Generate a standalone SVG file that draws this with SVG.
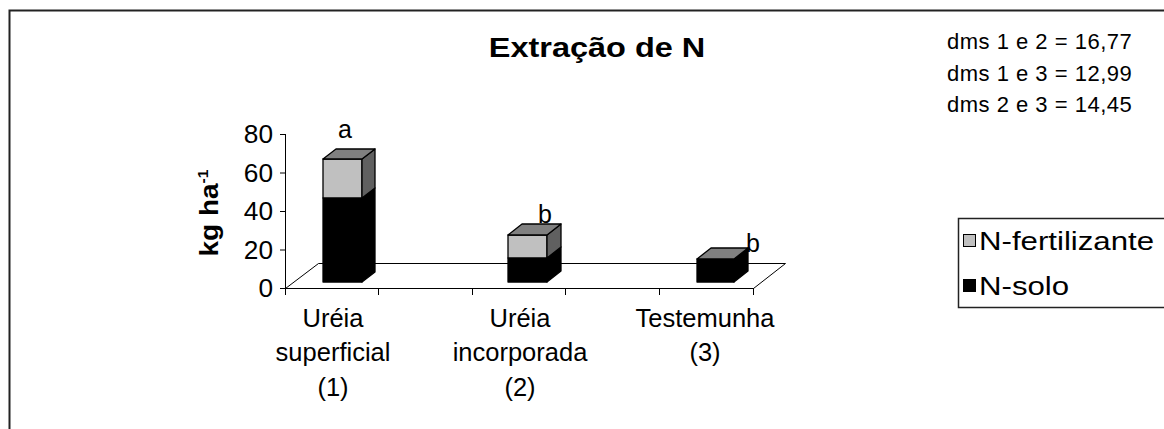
<svg xmlns="http://www.w3.org/2000/svg" width="1164" height="429" viewBox="0 0 1164 429">
<style>
text{font-family:"Liberation Sans",Arial,sans-serif;fill:#000}
.t{font-size:25px}
.m{text-anchor:middle}
.e{text-anchor:end}
.ax{stroke:#000;stroke-width:1;fill:none}
.edge{stroke:#000;stroke-width:1.3;stroke-linejoin:round}
.solo{fill:#000}
.fert{fill:#c0c0c0}
.fside{fill:#606060}
.top{fill:#808080}
.d{font-size:22px;letter-spacing:0.5px}
.lg{font-size:26px}
</style>
<rect width="1164" height="429" fill="#fff"/>
<rect x="9.5" y="10.5" width="1200" height="500" fill="none" stroke="#222" stroke-width="2"/>
<text class="m" style="font-size:28px;font-weight:bold" transform="translate(597,57) scale(1.16,1)">Extração de N</text>
<g id="dms">
<text class="d" transform="translate(947,49)">dms 1 e 2 = 16,77</text>
<text class="d" transform="translate(947,81)">dms 1 e 3 = 12,99</text>
<text class="d" transform="translate(947,112)">dms 2 e 3 = 14,45</text>
</g>
<g id="floor">
<polygon class="ax" points="285.5,288.5 753.5,288.5 785.5,263.5 318.5,263.5"/>
</g>
<g id="axes">
<path class="ax" d="M285.5,134V289 M280,134.5H286 M280,173H286 M280,211.5H286 M280,250H286 M280,288.5H286 M285.5,288V295 M378.5,288V295 M472.5,288V295 M565.5,288V295 M659.5,288V295 M753.5,288V295"/>
<text class="t e" transform="translate(273,143) scale(1.05,1)">80</text>
<text class="t e" transform="translate(273,181.5) scale(1.05,1)">60</text>
<text class="t e" transform="translate(273,220) scale(1.05,1)">40</text>
<text class="t e" transform="translate(273,258.5) scale(1.05,1)">20</text>
<text class="t e" transform="translate(273,297) scale(1.05,1)">0</text>
<text class="m" style="font-size:25px;font-weight:bold" transform="translate(218,213) rotate(-90) scale(1.12,1)">kg ha<tspan style="font-size:14px" dy="-10">-1</tspan></text>
</g>
<g id="bar1">
<polygon class="solo edge" points="323,282 362,282 362,198 323,198"/>
<polygon class="solo edge" points="362,282 375,272 375,188 362,198"/>
<polygon class="fert edge" points="323,198 362,198 362,159 323,159"/>
<polygon class="fside edge" points="362,198 375,188 375,149 362,159"/>
<polygon class="top edge" points="323,159 336,149 375,149 362,159"/>
<text class="t m" transform="translate(345,138)">a</text>
</g>
<g id="bar2">
<polygon class="solo edge" points="508,282 547,282 547,258 508,258"/>
<polygon class="solo edge" points="547,282 561,271 561,247 547,258"/>
<polygon class="fert edge" points="508,258 547,258 547,235 508,235"/>
<polygon class="fside edge" points="547,258 561,247 561,224 547,235"/>
<polygon class="top edge" points="508,235 522,224 561,224 547,235"/>
<text class="t m" transform="translate(545,223)">b</text>
</g>
<g id="bar3">
<polygon class="solo edge" points="697,282 734,282 734,259 697,259"/>
<polygon class="solo edge" points="734,282 748,271 748,248 734,259"/>
<polygon class="top edge" points="697,259 711,248 748,248 734,259"/>
<text class="t m" transform="translate(753,252)">b</text>
</g>
<g id="cat-labels">
<text class="t m" transform="translate(333,327) scale(1.02,1)">Uréia</text>
<text class="t m" transform="translate(333,361) scale(1.02,1)">superficial</text>
<text class="t m" transform="translate(333,396) scale(1.02,1)">(1)</text>
<text class="t m" transform="translate(520,327) scale(1.02,1)">Uréia</text>
<text class="t m" transform="translate(520,361) scale(1.02,1)">incorporada</text>
<text class="t m" transform="translate(520,396) scale(1.02,1)">(2)</text>
<text class="t m" transform="translate(705,327) scale(1.02,1)">Testemunha</text>
<text class="t m" transform="translate(705,361) scale(1.02,1)">(3)</text>
</g>
<g id="legend">
<rect x="958.5" y="218.5" width="260" height="89" fill="#fff" stroke="#222" stroke-width="1.5"/>
<rect x="963.5" y="234.5" width="12" height="12" class="fert" stroke="#000" stroke-width="1"/>
<text class="lg" transform="translate(979,250) scale(1.2,1)">N-fertilizante</text>
<rect x="963.5" y="279.5" width="12" height="12" class="solo" stroke="#000" stroke-width="1"/>
<text class="lg" transform="translate(979,295) scale(1.2,1)">N-solo</text>
</g>
</svg>
